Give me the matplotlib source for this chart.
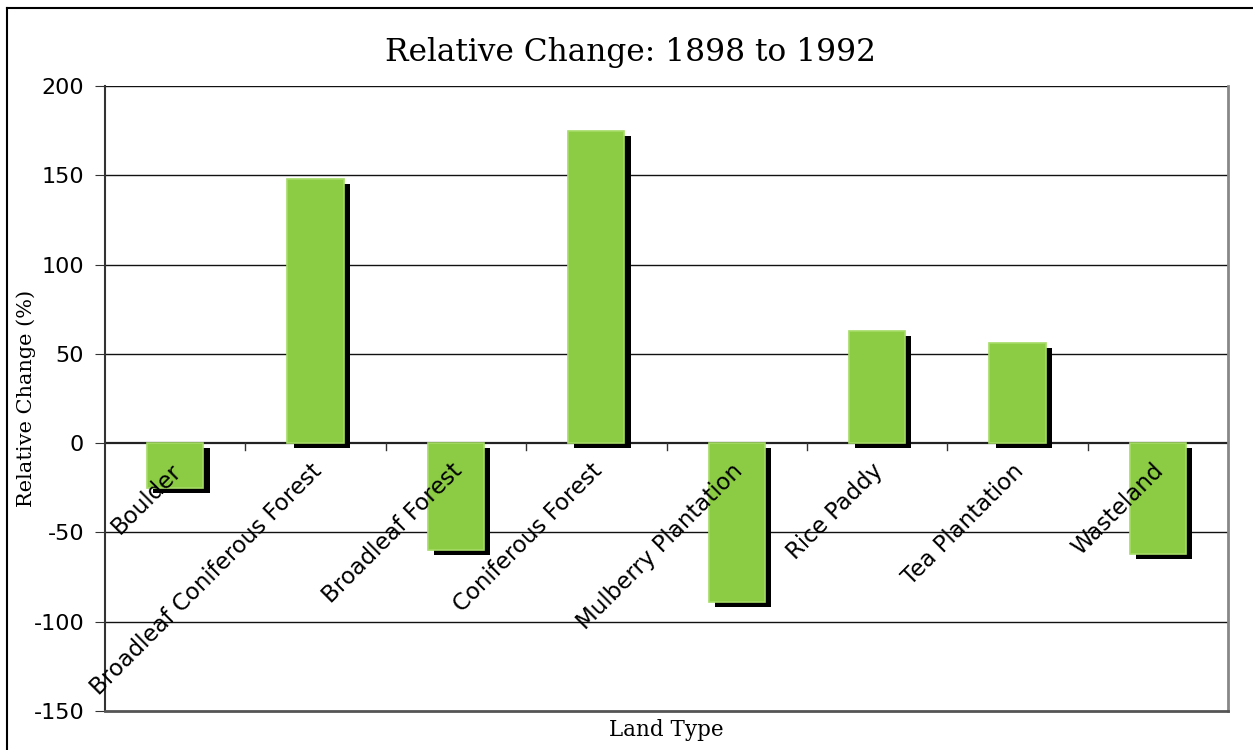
import matplotlib.pyplot as plt
import matplotlib.patheffects as pe
from matplotlib.lines import Line2D

plt.rcParams['axes.unicode_minus'] = False

# Land types and their relative change (%) between 1898 and 1992
tipos = ['Boulder', 'Broadleaf Coniferous Forest', 'Broadleaf Forest',
         'Coniferous Forest', 'Mulberry Plantation', 'Rice Paddy',
         'Tea Plantation', 'Wasteland']
cambio = [-25, 148, -60, 175, -89, 63, 56, -62]
marcas_y = [-150, -100, -50, 0, 50, 100, 150, 200]

fig = plt.figure(figsize=(12.53, 7.5), dpi=100)
ax = fig.add_axes([105 / 1253, 39 / 750, 1123 / 1253, 625 / 750])

x = list(range(len(tipos)))

# barras verdes con sombra negra
barras = ax.bar(x, cambio, width=0.4, color='#8ccc44', edgecolor='#a6dc66',
                linewidth=1.2, zorder=3)
for b in barras:
    b.set_path_effects([pe.SimplePatchShadow(offset=(4.5, -3.5), shadow_rgbFace='black', alpha=1.0),
                        pe.Normal()])

ax.set_xlim(-0.5, len(tipos) - 0.5)
ax.set_ylim(-150, 200)
ax.set_yticks(marcas_y)
ax.tick_params(axis='y', labelsize=16, length=7, color='#333333', pad=8)
for lbl in ax.get_yticklabels():
    lbl.set_family('DejaVu Sans')

# lineas horizontales de la cuadricula
for v in marcas_y[1:]:
    ax.axhline(v, color='#222222' if v == 0 else '#111111',
               linewidth=1.6 if v == 0 else 1.0, zorder=1)

# marcas pequeñas entre categorías sobre la línea del cero
ax.set_xticks([])
for i in range(1, len(tipos)):
    ax.plot([i - 0.5, i - 0.5], [0, -4], color='#333333', linewidth=1, zorder=2)

# etiquetas de categoría inclinadas junto al cero
for i, t in enumerate(tipos):
    ax.text(i - 0.04, -9, t, rotation=45, rotation_mode='anchor',
            ha='right', va='top', fontsize=16.5, family='DejaVu Sans', zorder=4)

ax.spines['top'].set_visible(False)
ax.spines['left'].set_color('#333333')
ax.spines['left'].set_linewidth(1.5)
ax.spines['bottom'].set_color('#555555')
ax.spines['bottom'].set_linewidth(2)
ax.spines['right'].set_color('#888888')
ax.spines['right'].set_linewidth(2)

ax.set_ylabel('Relative Change (%)', family='DejaVu Serif', fontsize=15)
ax.yaxis.set_label_coords(-0.061, 0.5)
ax.set_xlabel('Land Type', family='DejaVu Serif', fontsize=15.5, labelpad=6)
fig.suptitle('Relative Change: 1898 to 1992', family='DejaVu Serif',
             fontsize=22.5, x=0.503, y=0.95)

# marco exterior
fig.add_artist(Line2D([7 / 1253, 7 / 1253], [0, 1 - 8 / 750], transform=fig.transFigure,
                      color='black', linewidth=1.5))
fig.add_artist(Line2D([7 / 1253, 1], [1 - 8 / 750, 1 - 8 / 750], transform=fig.transFigure,
                      color='black', linewidth=1.5))

fig.savefig('out.png', dpi=100)
